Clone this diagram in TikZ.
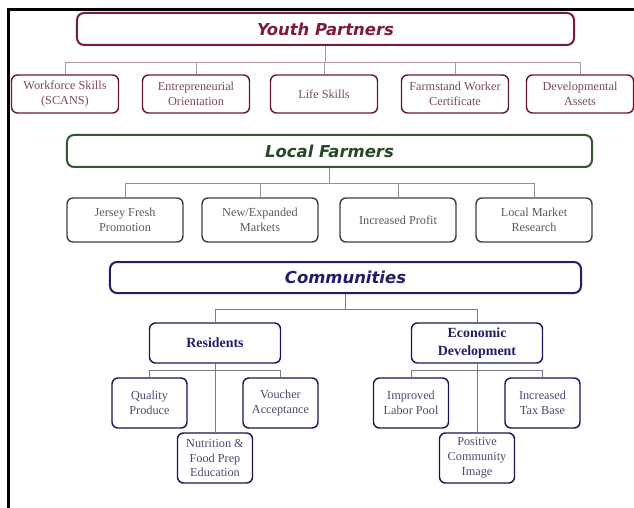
\documentclass[tikz,border=0pt]{standalone}
\usepackage{fontspec}
\setmainfont{Liberation Serif}
\newfontfamily\headfont{DejaVu Sans}
\usepackage{tikz}
\usetikzlibrary{calc,positioning}
\definecolor{youthred}{HTML}{7E1A3E}
\definecolor{youthtext}{HTML}{7A4A5C}
\definecolor{youthlink}{HTML}{B09AA2}
\definecolor{farmgreen}{HTML}{2E5A2E}
\definecolor{farmtext}{HTML}{5A5A5A}
\definecolor{farmlink}{HTML}{909090}
\definecolor{commblue}{HTML}{1E1E6A}
\definecolor{commtext}{HTML}{4A4A72}
\definecolor{commlink}{HTML}{7A7A88}
\tikzset{%
    head/.style={%
        rectangle, rounded corners=7bp, line width=2bp, text centered,
        font=\headfont\fontsize{16.5}{18}\selectfont\bfseries\itshape
    },
    item/.style={%
        rectangle, rounded corners=6bp, line width=1.4bp, align=center, inner sep=1bp,
        font=\fontsize{12.3}{14.6}\selectfont
    },
    youth_head/.style={%
        head, draw=youthred, text=youthred, minimum width=497bp, minimum height=32bp
    },
    youth_item/.style={%
        item, draw=youthred!85!black, text=youthtext, minimum width=107bp, minimum height=38bp
    },
    farm_head/.style={%
        head, draw=farmgreen, text=farmgreen!80!black, minimum width=525bp, minimum height=32bp
    },
    farm_item/.style={%
        item, draw=farmtext!70!black, text=farmtext, minimum width=116bp, minimum height=44bp
    },
    comm_head/.style={%
        head, draw=commblue, text=commblue, minimum width=471bp, minimum height=31bp
    },
    comm_group/.style={%
        item, draw=commblue!80!black, text=commblue, minimum width=131bp, minimum height=40bp,
        font=\fontsize{14}{17.5}\selectfont\bfseries
    },
    comm_item/.style={%
        item, draw=commblue!75!black, text=commtext, minimum width=75bp, minimum height=50bp,
        font=\fontsize{12.3}{15}\selectfont
    },
    link/.style={%
        line width=1bp
    },
}

\begin{document}
\begin{tikzpicture}[x=1bp, y=-1bp]
      \useasboundingbox (0,0) rectangle (634,508);
      \fill[white] (0,0) rectangle (634,508);
      \draw[line width=3bp] (8.5,508) -- (8.5,10) -- (634,10);

      \node[youth_head] (yp) at (325.5,29) {Youth Partners};
      \node[youth_item] (ws) at (65,94) {Workforce Skills\\(SCANS)};
      \node[youth_item] (eo) at (196,94) {Entrepreneurial\\Orientation};
      \node[youth_item] (ls) at (324,94) {Life Skills};
      \node[youth_item] (fw) at (455,94) {Farmstand Worker\\Certificate};
      \node[youth_item] (da) at (580,94) {Developmental\\Assets};
      \foreach \n in {ws,eo,ls,fw,da}
        \draw[link, youthlink] (yp.south) -- ++(0,17) -| (\n.north);

      \node[farm_head] (lf) at (329.5,151) {Local Farmers};
      \node[farm_item] (jf) at (125,220) {Jersey Fresh\\Promotion};
      \node[farm_item] (nm) at (260,220) {New/Expanded\\Markets};
      \node[farm_item] (ip) at (398,220) {Increased Profit};
      \node[farm_item] (lm) at (534,220) {Local Market\\Research};
      \foreach \n in {jf,nm,ip,lm}
        \draw[link, farmlink] (lf.south) -- ++(0,16) -| (\n.north);

      \node[comm_head] (cm) at (345.5,277.5) {Communities};
      \node[comm_group] (rs) at (215,343) {Residents};
      \node[comm_group] (ed) at (477,343) {Economic\\Development};
      \foreach \n in {rs,ed}
        \draw[link, commlink] (cm.south) -- ++(0,15) -| (\n.north);

      \node[comm_item] (qp) at (149.5,403) {Quality\\Produce};
      \node[comm_item] (va) at (280.5,403) {Voucher\\Acceptance};
      \node[comm_item] (nf) at (215,458) {Nutrition \&\\Food Prep\\Education};
      \foreach \n in {qp,va}
        \draw[link, commlink] (rs.south) -- ++(0,7) -| (\n.north);
      \draw[link, commlink] (rs.south) -- (nf.north);

      \node[comm_item] (lp) at (411,403) {Improved\\Labor Pool};
      \node[comm_item] (tb) at (542.5,403) {Increased\\Tax Base};
      \node[comm_item] (pc) at (477,458) {Positive\\Community\\Image};
      \foreach \n in {lp,tb}
        \draw[link, commlink] (ed.south) -- ++(0,7) -| (\n.north);
      \draw[link, commlink] (ed.south) -- (pc.north);
    \end{tikzpicture}
\end{document}
